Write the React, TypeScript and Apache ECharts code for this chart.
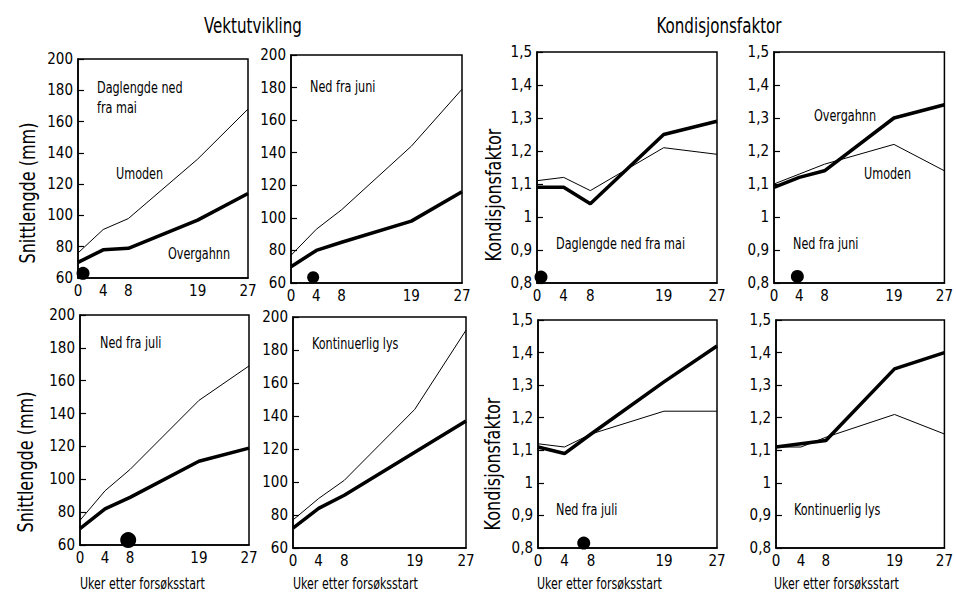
import React, { useEffect, useRef } from "react";
import * as echarts from "echarts";

// ---- data ----
const weeks = [0, 4, 8, 19, 27];
const weekTicks = [0, 4, 8, 19, 27];

const lenMaiUmoden = [76, 91, 98, 136, 168];
const lenMaiOvergahnn = [70, 78, 79, 97, 114];
const lenJuniUmoden = [77, 93, 105, 144, 179];
const lenJuniOvergahnn = [70, 80, 85, 98, 116];
const lenJuliUmoden = [75, 93, 106, 148, 169];
const lenJuliOvergahnn = [70, 82, 89, 111, 119];
const lenLysUmoden = [77, 90, 101, 144, 192];
const lenLysOvergahnn = [72, 84, 92, 118, 137];

const kMaiUmoden = [1.11, 1.12, 1.08, 1.21, 1.19];
const kMaiOvergahnn = [1.09, 1.09, 1.04, 1.25, 1.29];
const kJuniUmoden = [1.1, 1.13, 1.16, 1.22, 1.14];
const kJuniOvergahnn = [1.09, 1.12, 1.14, 1.3, 1.34];
const kJuliUmoden = [1.12, 1.11, 1.15, 1.22, 1.22];
const kJuliOvergahnn = [1.11, 1.09, 1.15, 1.31, 1.42];
const kLysUmoden = [1.11, 1.11, 1.14, 1.21, 1.15];
const kLysOvergahnn = [1.11, 1.12, 1.13, 1.35, 1.4];

// start of reduced day length (week, value at bottom of axis)
const startDots: ([number, number] | null)[] = [
  [0.8, 63], [3.5, 63.5], [7.7, 63], null,
  [0.6, 0.818], [3.7, 0.82], [6.9, 0.815], null,
];

const umodenSets = [lenMaiUmoden, lenJuniUmoden, lenJuliUmoden, lenLysUmoden, kMaiUmoden, kJuniUmoden, kJuliUmoden, kLysUmoden];
const overgahnnSets = [lenMaiOvergahnn, lenJuniOvergahnn, lenJuliOvergahnn, lenLysOvergahnn, kMaiOvergahnn, kJuniOvergahnn, kJuliOvergahnn, kLysOvergahnn];

// ---- layout ----
const grids = [
  { left: 78, top: 59, width: 170, height: 219 },
  { left: 291, top: 55, width: 171, height: 228 },
  { left: 80, top: 315, width: 169, height: 230 },
  { left: 293, top: 317, width: 173, height: 231 },
  { left: 537, top: 52, width: 180, height: 231 },
  { left: 774, top: 52, width: 179, height: 231 },
  { left: 538, top: 320, width: 179, height: 228 },
  { left: 776, top: 320, width: 178, height: 228 },
];
const dotSizes = [13, 12, 16, 0, 13, 13, 13, 0];

const FONT = "'Liberation Sans Narrow', 'DejaVu Sans Condensed', 'Roboto Condensed', sans-serif";

function txt(text: string, x: number, y: number, size: number, opts: any = {}) {
  return {
    type: "text",
    x,
    y,
    rotation: opts.rotation || 0,
    scaleX: opts.sx || 0.78,
    scaleY: 1,
    style: {
      text,
      fill: "#000",
      font: `${opts.weight || "normal"} ${size}px ${FONT}`,
      align: opts.align || "left",
      verticalAlign: "middle",
    },
  };
}

export default function App() {
  const ref = useRef<HTMLDivElement>(null);
  useEffect(() => {
    document.body.style.margin = "0";
    const chart = echarts.init(ref.current!, undefined, { renderer: "svg" });
    const kFmt = (v: number) => String(Math.round(v * 10) / 10).replace(".", ",");
    const option: any = {
      animation: false,
      backgroundColor: "#fff",
      grid: grids.map((g) => ({
        ...g,
        show: true,
        borderColor: "#000",
        borderWidth: 1.5,
        backgroundColor: "transparent",
      })),
      xAxis: grids.map((_, i) => ({
        type: "value",
        gridIndex: i,
        min: 0,
        max: 27,
        axisLine: { show: true, lineStyle: { color: "#000", width: 1.5 } },
        axisTick: { show: false },
        splitLine: { show: false },
        axisLabel: {
          customValues: weekTicks,
          color: "#000",
          fontSize: 15,
          fontFamily: FONT,
          margin: 5,
        },
      })),
      yAxis: grids.map((_, i) => {
        const isLen = i < 4;
        return {
          type: "value",
          gridIndex: i,
          min: isLen ? 60 : 0.8,
          max: isLen ? 200 : 1.5,
          interval: isLen ? 20 : 0.1,
          axisLine: { show: true, lineStyle: { color: "#000", width: 1.5 } },
          axisTick: { show: true, inside: true, length: 6, lineStyle: { color: "#000", width: 1.2 } },
          splitLine: { show: false },
          axisLabel: {
            color: "#000",
            fontSize: 15,
            fontFamily: FONT,
            margin: 5,
            formatter: isLen ? (v: number) => String(v) : kFmt,
          },
        };
      }),
      series: grids.flatMap((_, i) => {
        const s: any[] = [
          {
            type: "line",
            name: "Umoden",
            xAxisIndex: i,
            yAxisIndex: i,
            data: weeks.map((w, j) => [w, umodenSets[i][j]]),
            symbol: "none",
            lineStyle: { color: "#000", width: 1 },
          },
          {
            type: "line",
            name: "Overgahnn",
            xAxisIndex: i,
            yAxisIndex: i,
            data: weeks.map((w, j) => [w, overgahnnSets[i][j]]),
            symbol: "none",
            lineStyle: { color: "#000", width: 3.5 },
          },
        ];
        const d = startDots[i];
        if (d) {
          s.push({
            type: "scatter",
            xAxisIndex: i,
            yAxisIndex: i,
            data: [d],
            symbolSize: dotSizes[i],
            itemStyle: { color: "#000", opacity: 1 },
            clip: false,
          });
        }
        return s;
      }),
      graphic: [
        txt("Vektutvikling", 253, 25, 21, { align: "center", sx: 0.8 }),
        txt("Kondisjonsfaktor", 719, 25, 21, { align: "center", sx: 0.8 }),
        // panel labels
        txt("Daglengde ned", 97, 87, 16),
        txt("fra mai", 97, 107, 16),
        txt("Umoden", 116, 173, 16),
        txt("Overgahnn", 168, 253, 16),
        txt("Ned fra juni", 310, 86, 16),
        txt("Ned fra juli", 100, 342, 16),
        txt("Kontinuerlig lys", 312, 343, 16),
        txt("Daglengde ned fra mai", 556, 243, 16),
        txt("Ned fra juni", 793, 243, 16),
        txt("Overgahnn", 814, 115, 16),
        txt("Umoden", 864, 173, 16),
        txt("Ned fra juli", 556, 509, 16),
        txt("Kontinuerlig lys", 794, 509, 16),
        // axis names
        txt("Snittlengde (mm)", 28, 193, 21, { align: "center", rotation: Math.PI / 2, sx: 0.85 }),
        txt("Snittlengde (mm)", 26, 462, 21, { align: "center", rotation: Math.PI / 2, sx: 0.85 }),
        txt("Kondisjonsfaktor", 494, 195, 21, { align: "center", rotation: Math.PI / 2, sx: 0.85 }),
        txt("Kondisjonsfaktor", 493, 464, 21, { align: "center", rotation: Math.PI / 2, sx: 0.85 }),
        txt("Uker etter forsøksstart", 80, 584, 15, { sx: 0.82 }),
        txt("Uker etter forsøksstart", 293, 584, 15, { sx: 0.82 }),
        txt("Uker etter forsøksstart", 537, 584, 15, { sx: 0.82 }),
        txt("Uker etter forsøksstart", 774, 584, 15, { sx: 0.82 }),
      ],
    };
    chart.setOption(option);
    return () => chart.dispose();
  }, []);
  return <div ref={ref} style={{ width: 956, height: 596 }} />;
}
